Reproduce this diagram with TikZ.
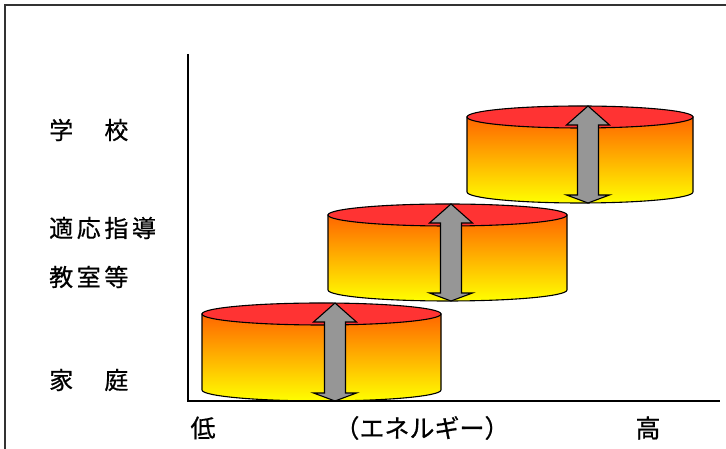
\documentclass[tikz,border=0pt]{standalone}
\usepackage{fontspec}
\newfontfamily\jpfont[FakeBold=0.6]{Noto Sans CJK JP}
\newfontfamily\jpspaced[LetterSpace=15,FakeBold=0.6]{Noto Sans CJK JP}
\definecolor{topred}{RGB}{255,51,51}
\definecolor{sideorange}{RGB}{255,102,0}
\definecolor{sidemid}{RGB}{255,190,0}
\definecolor{sideyellow}{RGB}{255,255,0}
\definecolor{arrowgray}{RGB}{150,150,150}
\tikzset{
  frameline/.style={line width=1.6pt, black!80},
  axisline/.style={line width=1.6pt, black},
  sidebody/.style={draw=black, line width=1.1pt, top color=sideorange, middle color=sidemid, bottom color=sideyellow},
  lidtop/.style={draw=black, line width=1.1pt, fill=topred},
  blockarrow/.style={draw=black, line width=1.1pt, fill=arrowgray, line join=miter},
  leftlabel/.style={anchor=west, inner sep=0pt, font=\jpspaced\fontsize{24}{24}\selectfont},
  bottomlabel/.style={anchor=center, inner sep=0pt, font=\jpfont\fontsize{25}{25}\selectfont}
}
% #1 cx, #2 rx, #3 top y, #4 bottom y, #5 arrow x
\newcommand\mycyl[5]{%
  \path[sidebody] (#1-#2,#3) -- (#1-#2,#4) arc[start angle=180, end angle=360, x radius=#2, y radius=11] -- (#1+#2,#3) -- cycle;
  \path[lidtop] (#1,#3) ellipse[x radius=#2, y radius=11];
  \path[blockarrow] (#5,#3+11) -- (#5+21.5,#3-8) -- (#5+10.5,#3-8) -- (#5+10.5,#4-3) -- (#5+21.5,#4-3) -- (#5,#4-11) -- (#5-21.5,#4-3) -- (#5-10.5,#4-3) -- (#5-10.5,#3-8) -- (#5-21.5,#3-8) -- cycle;
}
\begin{document}
\begin{tikzpicture}[x=1pt,y=1pt]
\useasboundingbox (0,0) rectangle (726,449);
% frame
\draw[frameline] (5,0) -- (5,444) -- (726,444);
% cylinders
\mycyl{321.5}{119.5}{135}{59}{335}
\mycyl{447.5}{119.5}{234}{159}{451}
\mycyl{580}{113}{332}{257}{588}
% axes
\coordinate (ytop) at (188,395);
\coordinate (origin) at (188,48);
\coordinate (xend) at (720,48);
\draw[axisline] (ytop) -- (origin) -- (xend);
% left labels
\node[leftlabel] (school) at (49,319) {学　校};
\node[leftlabel] (tekio) at (49,221) {適応指導};
\node[leftlabel] (kyoshitsu) at (49,172) {教室等};
\node[leftlabel] (home) at (49,69) {家　庭};
% bottom labels
\node[bottomlabel] (low) at (203,21) {低};
\node[bottomlabel] (energy) at (422,21) {（エネルギー）};
\node[bottomlabel] (high) at (648,21) {高};
\end{tikzpicture}
\end{document}
